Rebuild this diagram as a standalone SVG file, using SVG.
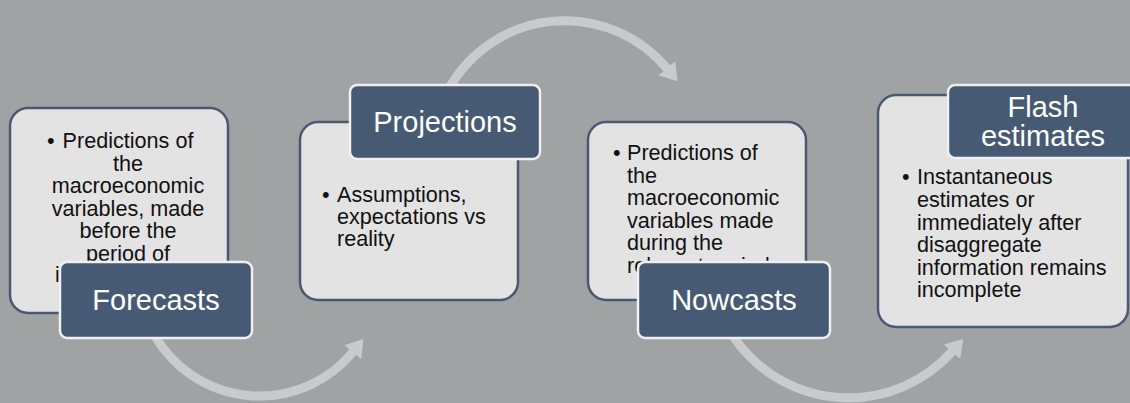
<svg xmlns="http://www.w3.org/2000/svg" width="1130" height="403" viewBox="0 0 1130 403">
  <defs>
    <style>
      .body { fill: #e3e3e3; stroke: #4a5872; stroke-width: 2.5; }
      .label { fill: #475a74; stroke: #eef0f2; stroke-width: 2.5; }
      .txt { font-family: "Liberation Sans", Arial, sans-serif; font-size: 21.6px; fill: #111111; }
      .ttl { font-family: "Liberation Sans", Arial, sans-serif; font-size: 29px; fill: #ffffff; text-anchor: middle; }
      .flow { fill: none; stroke: #c8cace; stroke-width: 9; }
    </style>
    <marker id="head" markerUnits="userSpaceOnUse" markerWidth="24" markerHeight="24" refX="1" refY="12" orient="auto">
      <path d="M0,1 L17,12 L0,23 Z" fill="#c8cace"/>
    </marker>
  </defs>

  <!-- background -->
  <rect x="0" y="0" width="1130" height="403" fill="#a0a3a3"/>

  <!-- curved flow arrows between stages -->
  <g id="connectors">
    <path class="flow" d="M155,336 A121,121 0 0 0 353.3,351.5" marker-end="url(#head)"/>
    <path class="flow" d="M447,92 A133,133 0 0 1 667.4,69" marker-end="url(#head)"/>
    <path class="flow" d="M733,336 A139,139 0 0 0 952.6,351" marker-end="url(#head)"/>
  </g>

  <!-- Forecasts -->
  <g id="forecasts">
    <rect class="body" x="10" y="108" width="218" height="205" rx="18"/>
    <text class="txt" x="47" y="148">•</text>
    <g class="txt" text-anchor="middle">
      <text x="128" y="148">Predictions of</text>
      <text x="128" y="170.5">the</text>
      <text x="128" y="193">macroeconomic</text>
      <text x="128" y="215.5">variables, made</text>
      <text x="128" y="238">before the</text>
      <text x="128" y="260.5">period of</text>
    </g>
    <text class="txt" x="55" y="282">i</text>
    <rect class="label" x="60" y="262" width="192" height="76" rx="7"/>
    <text class="ttl" x="156" y="310">Forecasts</text>
  </g>

  <!-- Projections -->
  <g id="projections">
    <rect class="body" x="300" y="122" width="218" height="178" rx="18"/>
    <g class="txt">
      <text x="322" y="202">•</text>
      <text x="337" y="202">Assumptions,</text>
      <text x="337" y="224">expectations vs</text>
      <text x="337" y="246">reality</text>
    </g>
    <rect class="label" x="350" y="85" width="190" height="74" rx="7"/>
    <text class="ttl" x="445" y="132">Projections</text>
  </g>

  <!-- Nowcasts -->
  <g id="nowcasts">
    <rect class="body" x="588" y="122" width="218" height="178" rx="18"/>
    <g class="txt">
      <text x="613" y="160">•</text>
      <text x="627" y="160">Predictions of</text>
      <text x="627" y="182.5">the</text>
      <text x="627" y="205">macroeconomic</text>
      <text x="627" y="227.5">variables made</text>
      <text x="627" y="250">during the</text>
      <text x="627" y="272.5">relevant period</text>
    </g>
    <rect class="label" x="638" y="262" width="192" height="76" rx="7"/>
    <text class="ttl" x="734" y="310">Nowcasts</text>
  </g>

  <!-- Flash estimates -->
  <g id="flash-estimates">
    <rect class="body" x="878" y="95" width="250" height="232" rx="18"/>
    <g class="txt">
      <text x="902" y="184">•</text>
      <text x="917" y="184">Instantaneous</text>
      <text x="917" y="207">estimates or</text>
      <text x="917" y="230">immediately after</text>
      <text x="917" y="252">disaggregate</text>
      <text x="917" y="275">information remains</text>
      <text x="917" y="297">incomplete</text>
    </g>
    <rect class="label" x="948" y="85" width="192" height="73" rx="7"/>
    <text class="ttl" x="1043" y="117">Flash</text>
    <text class="ttl" x="1043" y="146">estimates</text>
  </g>
</svg>
